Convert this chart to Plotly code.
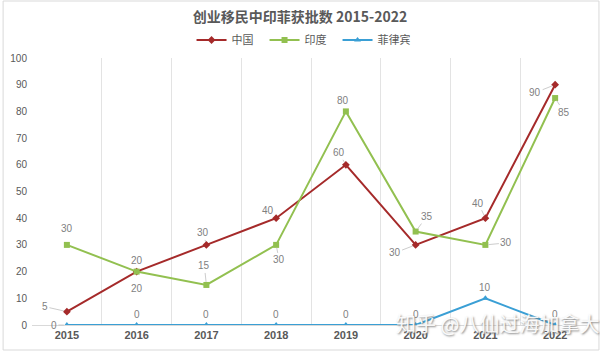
import plotly.graph_objects as go

years = ["2015", "2016", "2017", "2018", "2019", "2020", "2021", "2022"]
china = [5, 20, 30, 40, 60, 30, 40, 90]
india = [30, 20, 15, 30, 80, 35, 30, 85]
philippines = [0, 0, 0, 0, 0, 0, 10, 0]
series_names = ["中国", "印度", "菲律宾"]
title_text = "创业移民中印菲获批数 2015-2022"
watermark = "知乎 @八仙过海加拿大"

colors = ["#A52A2A", "#92C050", "#3A9FD5"]
symbols = ["diamond", "square", "triangle-up"]
cjk = "Noto Sans CJK SC"

W, H = 600, 351
ml, mr, mt, mb = 30, 10, 58, 26

fig = go.Figure()
for name, vals, col, sym in zip(series_names, [china, india, philippines], colors, symbols):
    fig.add_trace(go.Scatter(
        x=years, y=vals, name=name, mode="lines+markers",
        line=dict(color=col, width=2),
        marker=dict(symbol=sym, size=6, color=col),
    ))

# label offsets (pixels) per series: (ax, ay, leader)
offs_china = [(-22, -5, True), (0, -11, False), (-3, -12, True), (-8, -8, False),
              (-7, -12, True), (-21, 8, True), (-7, -15, True), (-20, 8, True)]
offs_india = [(0, -16, False), (0, 17, False), (-2, -19, True), (3, 15, True),
              (-3, -11, False), (11, -15, True), (21, -2, True), (9, 14, True)]
offs_phil = [(-13, 0, True), (0, -11, False), (0, -11, False), (0, -11, False),
             (0, -11, False), (0, -11, False), (0, -11, False), (0, -11, False)]

anns = []
for vals, offs in [(china, offs_china), (india, offs_india), (philippines, offs_phil)]:
    for i, (v, (ax, ay, lead)) in enumerate(zip(vals, offs)):
        anns.append(dict(
            x=i, y=v, xref="x", yref="y", text=str(v),
            showarrow=True, ax=ax, ay=ay, arrowhead=0, arrowwidth=0.8,
            arrowcolor="#BFBFBF" if lead else "rgba(0,0,0,0)", standoff=3,
            font=dict(family="Liberation Sans", size=10, color="#7F7F7F"),
        ))

pw = W - ml - mr
ph = H - mt - mb
anns.append(dict(
    x=(497 - ml) / pw, y=(H - mb - 323) / ph, xref="paper", yref="paper",
    text=watermark, showarrow=False, xanchor="center", yanchor="middle",
    font=dict(family=cjk, size=20, color="rgba(255,255,255,0.92)",
              shadow="1px 1px 2px #777777"),
))

fig.update_layout(
    width=W, height=H,
    margin=dict(l=ml, r=mr, t=mt, b=mb),
    paper_bgcolor="white", plot_bgcolor="white",
    title=dict(text="<b>" + title_text + "</b>", x=0.5, xanchor="center",
               y=1 - 17 / H, yanchor="middle", xref="container",
               font=dict(family=cjk, size=14, color="#595959")),
    legend=dict(orientation="h", x=(300 - ml) / pw, xanchor="center", y=1 + 18 / ph,
                yanchor="middle",
                font=dict(family=cjk, size=11, color="#595959"),
                entrywidth=28, tracegroupgap=0),
    showlegend=True,
    xaxis=dict(type="category", tickson="boundaries", showgrid=True, gridcolor="#E3E3E3",
               gridwidth=1, showline=True, linecolor="#D9D9D9", ticks="",
               tickfont=dict(family="Liberation Sans", size=11, color="#595959", weight="bold"),
               range=[-0.5, 7.5], zeroline=False, fixedrange=True),
    yaxis=dict(range=[0, 100], dtick=10, showgrid=False, zeroline=False, showline=False,
               tickfont=dict(family="Liberation Sans", size=10, color="#595959"),
               ticks="", ticklabelstandoff=4),
    annotations=anns,
    shapes=[dict(type="rect", xref="paper", yref="paper",
                 x0=-(ml - 1) / pw, x1=1 + (mr - 1) / pw,
                 y0=-(mb - 1) / ph, y1=1 + (mt - 1) / ph,
                 line=dict(color="#D9D9D9", width=1), layer="below")],
)

fig.write_html("out.html")
